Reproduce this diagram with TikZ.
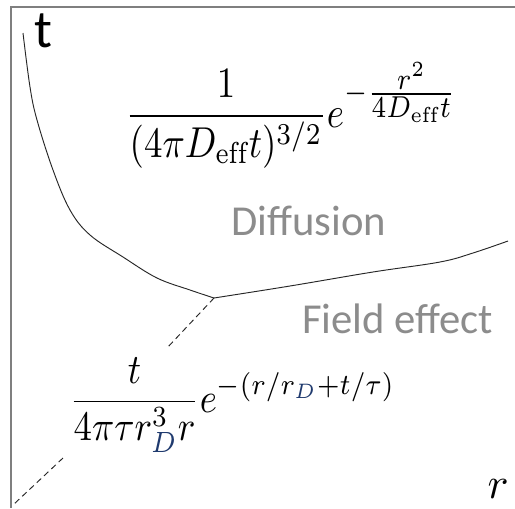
\documentclass[tikz,border=0pt]{standalone}
\usepackage{fontspec}
\usepackage{graphicx}
\newfontfamily\calib{Carlito}
\definecolor{framegray}{HTML}{7F7F7F}
\definecolor{labelgray}{HTML}{8C8C8C}
\definecolor{curvecol}{HTML}{262626}
\definecolor{dnavy}{HTML}{1F3A6E}
\begin{document}
\begin{tikzpicture}[x=0.75pt,y=-0.75pt,
  framestyle/.style={draw=framegray,line width=1.5pt},
  curvestyle/.style={draw=curvecol,line width=0.7pt},
  dashstyle/.style={draw=curvecol,line width=0.7pt,dash pattern=on 4.5pt off 3pt},
  regionlabel/.style={inner sep=0pt,text=labelgray,font=\calib\fontsize{32}{38}\selectfont},
  axislabel/.style={inner sep=0pt}]
\useasboundingbox (0,0) rectangle (515,508);
\fill[white] (0,0) rectangle (515,508);
% frame
\draw[framestyle] (11,508) -- (11,7) -- (515,7);
% axis labels
\node[axislabel,anchor=base west,font=\calib\fontsize{40}{48}\selectfont] (tlab) at (34,47) {t};
\node[axislabel,anchor=base east] (rlab) at (509,498) {\scalebox{3.3}{$r$}};
% boundary curve
\coordinate (j) at (214,298);
\draw[curvestyle] plot[smooth,tension=0.6] coordinates {(23,33) (30,87) (37,120) (53,170) (70,210) (90,235) (123,257) (157,278) (190,290) (214,298)};
\draw[curvestyle] plot[smooth,tension=0.6] coordinates {(214,298) (290,286) (373,272) (440,262) (473,253) (508,241)};
% dashed continuation
\coordinate (d1) at (167,348);
\coordinate (d2) at (63,458);
\coordinate (d3) at (13,505);
\draw[dashstyle] (j) -- (d1);
\draw[dashstyle] (d2) -- (d3);
% region labels
\node[regionlabel,anchor=base west] (diff) at (231,235) {Diffusion};
\node[regionlabel,anchor=base west] (field) at (302,333) {Field effect};
% formulas
\node[inner sep=0pt,anchor=base west] (f1) at (125,127)
  {\resizebox{249pt}{48pt}{$\displaystyle\frac{1}{(4\pi D_{\mathrm{eff}}t)^{3/2}}e^{-\frac{\scriptstyle r^2}{\scriptstyle 4D_{\mathrm{eff}}t}}$}};
\node[inner sep=0pt,anchor=base west] (f2) at (69,412)
  {\resizebox{244.5pt}{40.5pt}{$\displaystyle\frac{t}{4\pi\tau r_{\textcolor{dnavy}{D}}^3 r}e^{-(r/r_{\textcolor{dnavy}{D}}+t/\tau)}$}};
\end{tikzpicture}
\end{document}
